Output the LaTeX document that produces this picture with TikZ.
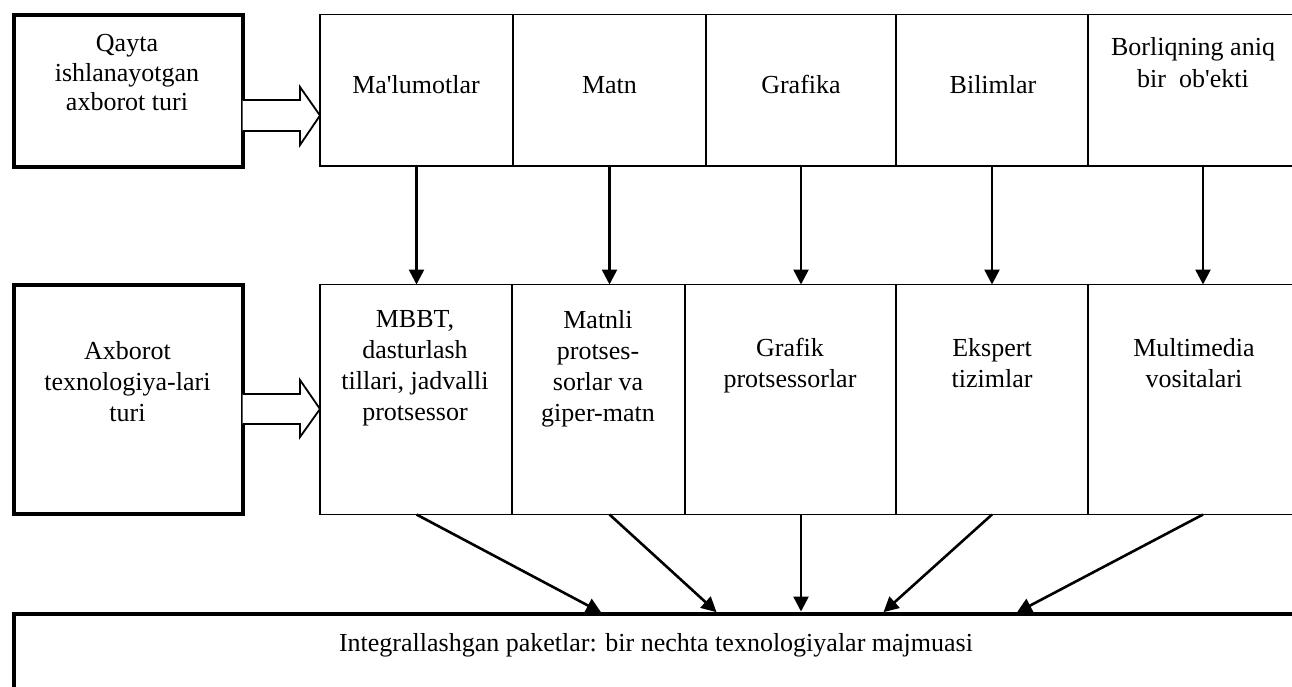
\documentclass[tikz,border=0pt]{standalone}
\usepackage{fontspec}
\setmainfont{Liberation Serif}
\usetikzlibrary{arrows.meta,calc}
\begin{document}
\begin{tikzpicture}[x=1pt,y=-1pt,
  every node/.style={inner sep=0pt, outer sep=0pt},
  heavybox/.style={draw, line width=4pt, rectangle, anchor=north west},
  cell/.style={draw, line width=1.8pt, rectangle, anchor=north west},
  lbl/.style={align=center, font=\fontsize{26}{31}\selectfont, execute at begin node=\strut},
  flow/.style={line width=2.6pt, -{Triangle[length=15pt,width=15pt]}},
  hollow/.style={draw, line width=1.8pt, fill=white, line join=miter},
]
\useasboundingbox (0,0) rectangle (1292,686);
\clip (0,0) rectangle (1292,686);

% row headings on the left
\node[heavybox, minimum width=228.5pt, minimum height=152.5pt] (ql) at (14,14.5) {};
\node[heavybox, minimum width=228.5pt, minimum height=229pt] (ml) at (14,285) {};

% upper row: kinds of information
\node[cell, minimum width=193pt, minimum height=151.5pt] (t1) at (320,14.5) {};
\node[cell, minimum width=193pt, minimum height=151.5pt] (t2) at (513,14.5) {};
\node[cell, minimum width=190pt, minimum height=151.5pt] (t3) at (706,14.5) {};
\node[cell, minimum width=192pt, minimum height=151.5pt] (t4) at (896,14.5) {};
\node[cell, minimum width=230pt, minimum height=151.5pt] (t5) at (1088,14.5) {};

% middle row: kinds of technology
\node[cell, minimum width=192pt, minimum height=230pt] (m1) at (320,284.5) {};
\node[cell, minimum width=173pt, minimum height=230pt] (m2) at (512,284.5) {};
\node[cell, minimum width=211pt, minimum height=230pt] (m3) at (685,284.5) {};
\node[cell, minimum width=192pt, minimum height=230pt] (m4) at (896,284.5) {};
\node[cell, minimum width=230pt, minimum height=230pt] (m5) at (1088,284.5) {};

% lower band
\node[heavybox, minimum width=1300pt, minimum height=100pt] (bb) at (14,613.5) {};

% texts
\node[lbl, font=\fontsize{26}{29.5}\selectfont, anchor=north] (ql-t) at (127,34.3) {Qayta\\ishlanayotgan\\axborot turi};
\node[lbl, anchor=north] (ml-t) at (127.5,341.3) {Axborot\\texnologiya-lari\\turi};

\node[lbl, anchor=north] (t1-t) at (416,71.3) {Ma\textquotesingle lumotlar};
\node[lbl, anchor=north] (t2-t) at (609.5,71.3) {Matn};
\node[lbl, anchor=north] (t3-t) at (801,71.3) {Grafika};
\node[lbl, anchor=north] (t4-t) at (993,71.3) {Bilimlar};
\node[lbl, font=\fontsize{26}{32}\selectfont, anchor=north] (t5-t) at (1193,37.6) {Borliqning aniq\\bir\ \ ob\textquotesingle ekti};

\node[lbl, anchor=north] (m1-t) at (415,310.3) {MBBT,\\dasturlash\\tillari, jadvalli\\protsessor};
\node[lbl, anchor=north] (m2-t) at (598,310.3) {Matnli\\protses-\\sorlar va\\giper-matn};
\node[lbl, anchor=north] (m3-t) at (790,338.3) {Grafik\\protsessorlar};
\node[lbl, anchor=north] (m4-t) at (992,338.3) {Ekspert\\tizimlar};
\node[lbl, anchor=north] (m5-t) at (1194,338.3) {Multimedia\\vositalari};

\node[font=\fontsize{26}{31}\selectfont, anchor=base] (bb-t) at (656,651) {Integrallashgan paketlar: bir nechta texnologiyalar majmuasi};

% hollow block arrows from the headings
\coordinate (h1) at (ql.east |- 0,115.5);
\draw[hollow] ($(h1)+(0,-15.5)$) -- ($(h1)+(57.5,-15.5)$) -- ($(h1)+(57.5,-28.5)$)
  -- (t1.west |- h1) -- ($(h1)+(57.5,29.5)$) -- ($(h1)+(57.5,15.5)$) -- ($(h1)+(0,15.5)$);
\coordinate (h2) at (ml.east |- 0,409);
\draw[hollow] ($(h2)+(0,-15)$) -- ($(h2)+(57.5,-15)$) -- ($(h2)+(57.5,-29)$)
  -- (m1.west |- h2) -- ($(h2)+(57.5,28)$) -- ($(h2)+(57.5,15)$) -- ($(h2)+(0,15)$);

% information kind -> technology kind
\foreach \i in {1,...,5}{
  \draw[flow] (t\i.south) -- (t\i.south |- m\i.north);
}

% technologies -> integrated packages
\coordinate (e1) at (603,0 |- bb.north);
\coordinate (e2) at (718,0 |- bb.north);
\coordinate (e3) at (t3.south |- bb.north);
\coordinate (e4) at (882,0 |- bb.north);
\coordinate (e5) at (1015,0 |- bb.north);
\foreach \i in {1,...,5}{
  \draw[flow, shorten >=2pt] (m\i.south -| t\i.south) -- (e\i);
}
\end{tikzpicture}
\end{document}
